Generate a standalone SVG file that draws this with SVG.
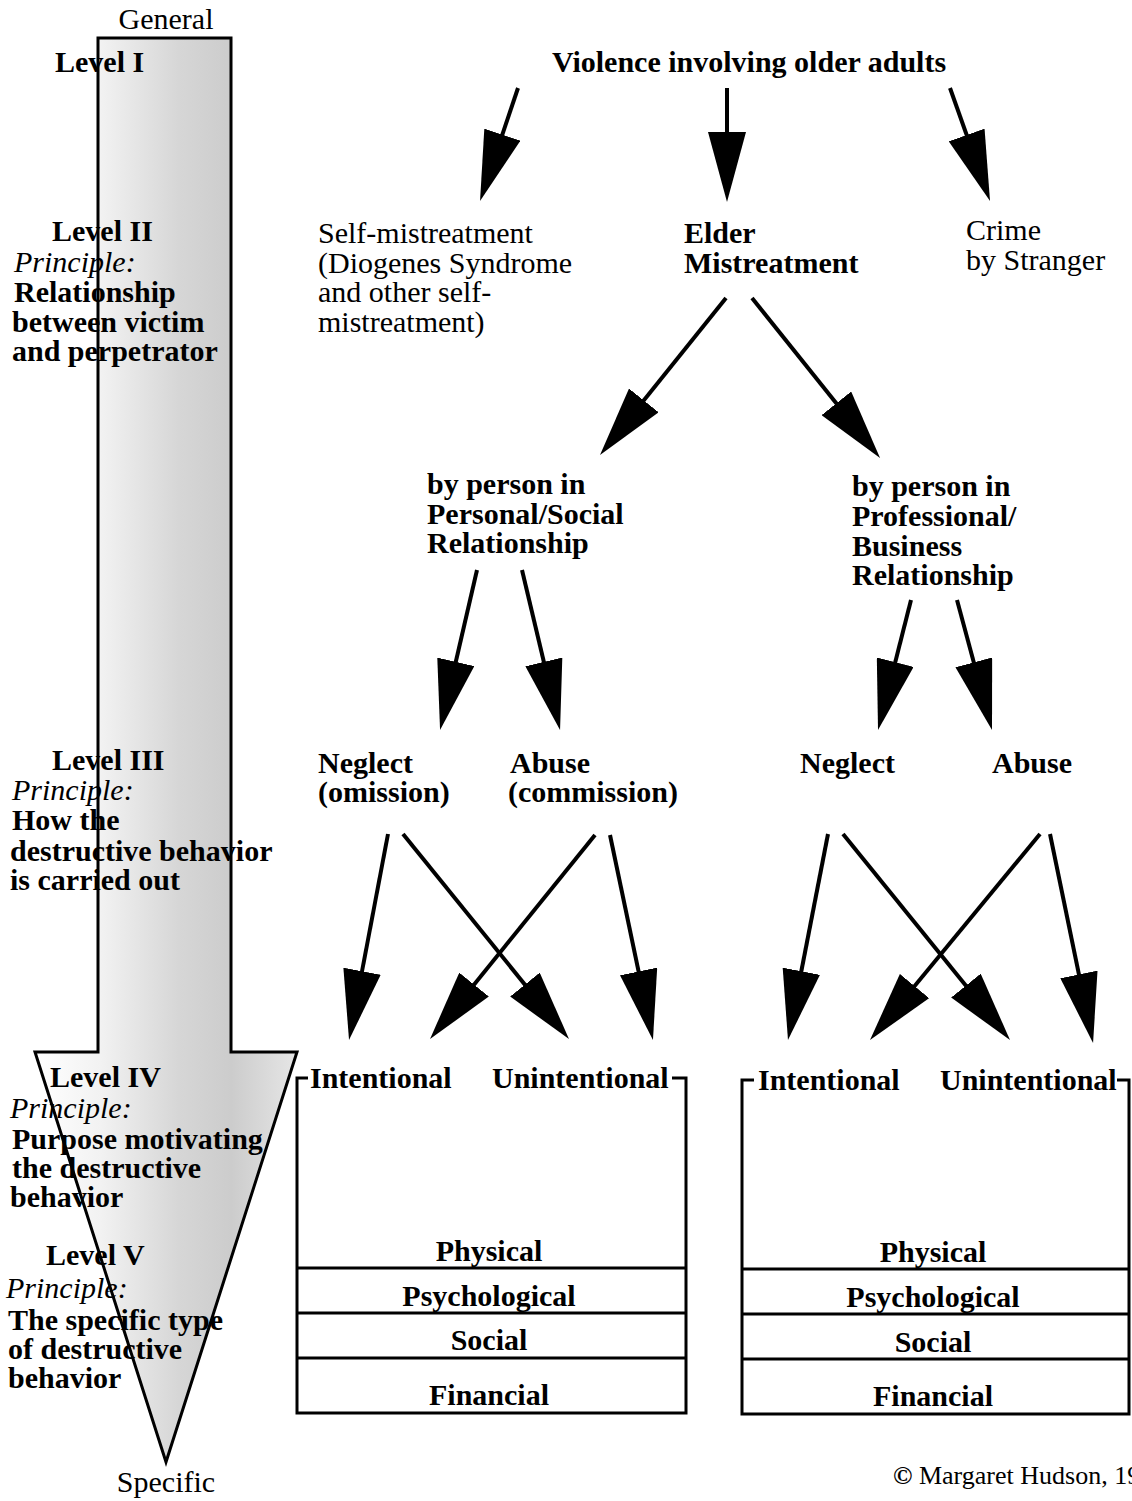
<svg xmlns="http://www.w3.org/2000/svg" width="1132" height="1501" viewBox="0 0 1132 1501">
<style>
text{font-family:"Liberation Serif","Times New Roman",serif;font-size:30px;fill:#000}
.b{font-weight:bold}
.i{font-style:italic}
.m{text-anchor:middle}
.c line{stroke:#000;stroke-width:4;marker-end:url(#ah)}
.box{fill:none;stroke:#000;stroke-width:3}
</style>
<defs>
<marker id="ah" markerUnits="userSpaceOnUse" viewBox="0 0 70 38" refX="40" refY="19" markerWidth="70" markerHeight="38" orient="auto">
<path d="M0,0 L70,19 L0,38 Z" fill="#000"/>
</marker>
<linearGradient id="sh" gradientUnits="userSpaceOnUse" x1="35" y1="0" x2="297" y2="0">
<stop offset="0" stop-color="#ffffff"/>
<stop offset="0.25" stop-color="#f2f2f2"/>
<stop offset="0.55" stop-color="#d6d6d6"/>
<stop offset="0.75" stop-color="#cccccc"/>
<stop offset="1" stop-color="#e6e6e6"/>
</linearGradient>
</defs>
<rect width="1132" height="1501" fill="#fff"/>
<g id="bigarrow">
<path d="M98,38 H231 V1052 H297 L166,1462 L35,1052 H98 Z" fill="url(#sh)" stroke="#000" stroke-width="3" stroke-linejoin="miter"/>
<text class="m" x="166" y="29">General</text>
<text class="m" x="166" y="1492">Specific</text>
</g>
<g id="level1"><text class="b" x="55" y="72">Level I</text></g>
<g id="level2">
<text class="b" x="52" y="241">Level II</text>
<text class="i" x="14" y="272">Principle:</text>
<text class="b" x="14" y="302">Relationship</text>
<text class="b" x="12" y="332">between victim</text>
<text class="b" x="12" y="361">and perpetrator</text>
</g>
<g id="level3">
<text class="b" x="52" y="770">Level III</text>
<text class="i" x="12" y="800">Principle:</text>
<text class="b" x="12" y="830">How the</text>
<text class="b" x="10" y="861">destructive behavior</text>
<text class="b" x="10" y="890">is carried out</text>
</g>
<g id="level4">
<text class="b" x="50" y="1087">Level IV</text>
<text class="i" x="10" y="1118">Principle:</text>
<text class="b" x="12" y="1149">Purpose motivating</text>
<text class="b" x="12" y="1178">the destructive</text>
<text class="b" x="10" y="1207">behavior</text>
</g>
<g id="level5">
<text class="b" x="46" y="1265">Level V</text>
<text class="i" x="6" y="1298">Principle:</text>
<text class="b" x="8" y="1330">The specific type</text>
<text class="b" x="8" y="1359">of destructive</text>
<text class="b" x="8" y="1388">behavior</text>
</g>
<g id="violence"><text class="b m" x="749" y="72">Violence involving older adults</text></g>
<g id="selfmistreatment">
<text x="318" y="243">Self-mistreatment</text>
<text x="318" y="273">(Diogenes Syndrome</text>
<text x="318" y="302">and other self-</text>
<text x="318" y="332">mistreatment)</text>
</g>
<g id="elder">
<text class="b" x="684" y="243">Elder</text>
<text class="b" x="684" y="273">Mistreatment</text>
</g>
<g id="crime">
<text x="966" y="240">Crime</text>
<text x="966" y="270">by Stranger</text>
</g>
<g id="personal">
<text class="b" x="427" y="494">by person in</text>
<text class="b" x="427" y="524">Personal/Social</text>
<text class="b" x="427" y="553">Relationship</text>
</g>
<g id="professional">
<text class="b" x="852" y="496">by person in</text>
<text class="b" x="852" y="526">Professional/</text>
<text class="b" x="852" y="556">Business</text>
<text class="b" x="852" y="585">Relationship</text>
</g>
<g id="neglect1">
<text class="b" x="318" y="773">Neglect</text>
<text class="b" x="318" y="802">(omission)</text>
</g>
<g id="abuse1">
<text class="b" x="510" y="773">Abuse</text>
<text class="b" x="508" y="802">(commission)</text>
</g>
<g id="neglect2"><text class="b" x="800" y="773">Neglect</text></g>
<g id="abuse2"><text class="b" x="992" y="773">Abuse</text></g>
<g id="box1">
<path class="box" d="M308,1078 H297 V1413 H686 V1078 H672"/>
<line class="box" x1="297" y1="1268" x2="686" y2="1268"/>
<line class="box" x1="297" y1="1313" x2="686" y2="1313"/>
<line class="box" x1="297" y1="1358" x2="686" y2="1358"/>
<text class="b" x="310" y="1088">Intentional</text>
<text class="b" x="492" y="1088">Unintentional</text>
<text class="b m" x="489" y="1261">Physical</text>
<text class="b m" x="489" y="1306">Psychological</text>
<text class="b m" x="489" y="1350">Social</text>
<text class="b m" x="489" y="1405">Financial</text>
</g>
<g id="box2">
<path class="box" d="M754,1080 H742 V1414 H1129 V1080 H1117"/>
<line class="box" x1="742" y1="1269" x2="1129" y2="1269"/>
<line class="box" x1="742" y1="1314" x2="1129" y2="1314"/>
<line class="box" x1="742" y1="1359" x2="1129" y2="1359"/>
<text class="b" x="758" y="1090">Intentional</text>
<text class="b" x="940" y="1090">Unintentional</text>
<text class="b m" x="933" y="1262">Physical</text>
<text class="b m" x="933" y="1307">Psychological</text>
<text class="b m" x="933" y="1352">Social</text>
<text class="b m" x="933" y="1406">Financial</text>
</g>
<g id="connectors" class="c">
<line x1="518" y1="88" x2="489.6" y2="172.6"/>
<line x1="727" y1="88" x2="727" y2="172"/>
<line x1="950" y1="88" x2="980" y2="172.7"/>
<line x1="726" y1="298" x2="618.8" y2="431.6"/>
<line x1="752" y1="298" x2="861.3" y2="434.6"/>
<line x1="477" y1="570" x2="446.8" y2="700.8"/>
<line x1="522" y1="570" x2="553.1" y2="700.8"/>
<line x1="911" y1="600" x2="885.4" y2="700.9"/>
<line x1="957" y1="600" x2="984.2" y2="701"/>
<line x1="388" y1="834" x2="354.6" y2="1010.5"/>
<line x1="403" y1="834" x2="550.1" y2="1015.7"/>
<line x1="595" y1="835" x2="448.9" y2="1015.7"/>
<line x1="610" y1="835" x2="646.8" y2="1010.6"/>
<line x1="828" y1="834" x2="793.7" y2="1010.5"/>
<line x1="843" y1="834" x2="991.1" y2="1016.7"/>
<line x1="1040" y1="834" x2="889.1" y2="1016.9"/>
<line x1="1050" y1="834" x2="1087" y2="1013.6"/>
</g>
<g id="copyright"><text x="893" y="1484" style="font-size:26px"><tspan font-weight="bold">©</tspan> Margaret Hudson, 19</text></g>
</svg>
